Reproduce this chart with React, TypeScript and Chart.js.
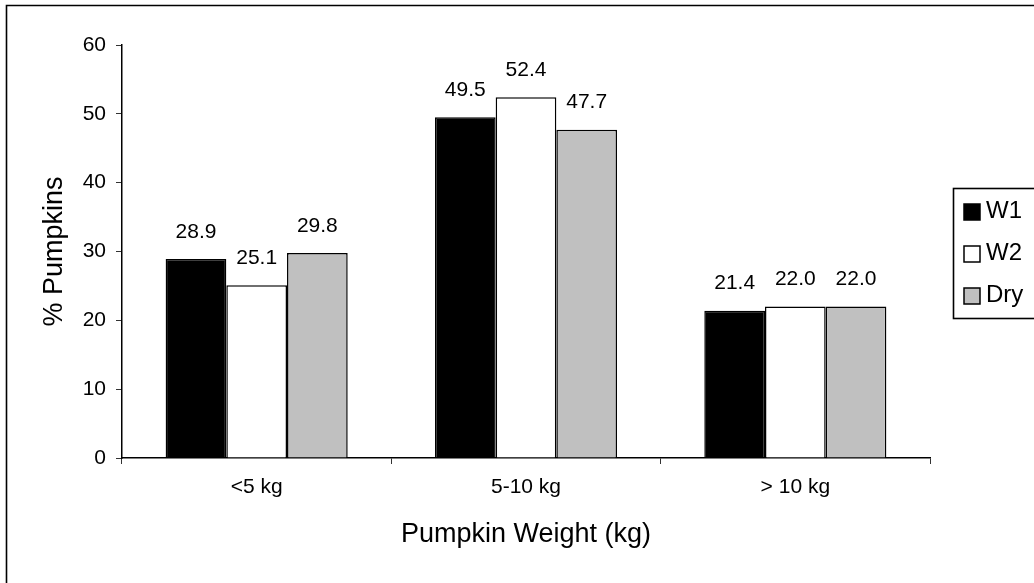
import { useEffect, useRef } from 'react';
import { Chart, registerables } from 'chart.js';

Chart.register(...registerables);

// Pumpkin weight classes and the share of pumpkins in each, per treatment
const categories = ['<5 kg', '5-10 kg', '> 10 kg'];
const seriesNames = ['W1', 'W2', 'Dry'];
const w1Values = [28.9, 49.5, 21.4];
const w2Values = [25.1, 52.4, 22.0];
const dryValues = [29.8, 47.7, 22.0];
const yTickValues = [0, 10, 20, 30, 40, 50, 60];
const xTitle = 'Pumpkin Weight (kg)';
const yTitle = '% Pumpkins';

const seriesFills = ['#000000', '#ffffff', '#c0c0c0'];
const FONT = '"Liberation Sans", Arial, Helvetica, sans-serif';

// Thin frame along the top and left edges of the chart
const framePlugin = {
  id: 'frame',
  afterDraw(chart: any) {
    const { ctx } = chart;
    ctx.save();
    ctx.strokeStyle = '#000';
    ctx.lineWidth = 1.6;
    ctx.beginPath();
    ctx.moveTo(6.5, chart.height + 2);
    ctx.lineTo(6.5, 5.5);
    ctx.lineTo(chart.width + 2, 5.5);
    ctx.stroke();
    ctx.restore();
  },
};

// Value written above every bar, one decimal place
const valueLabelPlugin = {
  id: 'valueLabels',
  afterDatasetsDraw(chart: any) {
    const { ctx } = chart;
    ctx.save();
    ctx.font = `21px ${FONT}`;
    ctx.fillStyle = '#000';
    ctx.textAlign = 'center';
    ctx.textBaseline = 'middle';
    chart.data.datasets.forEach((ds: any, i: number) => {
      const meta = chart.getDatasetMeta(i);
      meta.data.forEach((bar: any, j: number) => {
        const v = ds.data[j] as number;
        ctx.fillText(v.toFixed(1), bar.x, bar.y - 27);
      });
    });
    ctx.restore();
  },
};

// Boxed legend at the right, partly running off the edge
const boxLegendPlugin = {
  id: 'boxLegend',
  afterDraw(chart: any) {
    const { ctx } = chart;
    const left = 953.5;
    const top = 188.5;
    const bottom = 318.5;
    const rowGap = 42;
    const firstRow = 211;
    ctx.save();
    ctx.strokeStyle = '#000';
    ctx.lineWidth = 1.6;
    ctx.strokeRect(left, top, chart.width + 20 - left, bottom - top);
    ctx.font = `24px ${FONT}`;
    ctx.textAlign = 'left';
    ctx.textBaseline = 'middle';
    chart.data.datasets.forEach((ds: any, i: number) => {
      const y = firstRow + i * rowGap;
      ctx.fillStyle = ds.backgroundColor;
      ctx.fillRect(964, y - 7, 16, 16);
      ctx.lineWidth = 1.5;
      ctx.strokeStyle = '#000';
      ctx.strokeRect(964, y - 7, 16, 16);
      ctx.fillStyle = '#000';
      ctx.fillText(ds.label, 986, y);
    });
    ctx.restore();
  },
};

export default function App() {
  const canvasRef = useRef<HTMLCanvasElement | null>(null);

  useEffect(() => {
    const canvas = canvasRef.current;
    if (!canvas) return;
    const seriesValues = [w1Values, w2Values, dryValues];
    const chart = new Chart(canvas, {
      type: 'bar',
      data: {
        labels: categories,
        datasets: seriesNames.map((name, i) => ({
          label: name,
          data: seriesValues[i],
          backgroundColor: seriesFills[i],
          borderColor: '#000',
          borderWidth: 1.5,
          categoryPercentage: 0.676,
          barPercentage: 1,
        })),
      },
      options: {
        responsive: false,
        animation: false,
        devicePixelRatio: 1,
        layout: { padding: { top: 45, right: 104, left: 0, bottom: 0 } },
        plugins: {
          legend: { display: false },
          tooltip: { enabled: false },
        },
        scales: {
          x: {
            grid: {
              drawOnChartArea: false,
              drawTicks: true,
              tickLength: 6,
              color: '#333',
              lineWidth: 1,
              offset: true,
            },
            border: { color: '#000', width: 1.5 },
            ticks: {
              color: '#000',
              font: { family: FONT, size: 21 },
              padding: 11,
              maxRotation: 0,
            },
            title: {
              display: true,
              text: xTitle,
              color: '#000',
              font: { family: FONT, size: 27 },
              padding: { top: 0, bottom: 32 },
            },
            afterFit(scale: any) {
              scale.height = 125;
            },
          },
          y: {
            min: 0,
            max: 60,
            afterBuildTicks(scale: any) {
              scale.ticks = yTickValues.map((v) => ({ value: v }));
            },
            grid: {
              drawOnChartArea: false,
              drawTicks: true,
              tickLength: 6,
              color: '#333',
              lineWidth: 1,
            },
            border: { color: '#000', width: 1.5 },
            ticks: {
              color: '#000',
              font: { family: FONT, size: 21 },
              padding: 10,
            },
            title: {
              display: true,
              text: yTitle,
              color: '#000',
              font: { family: FONT, size: 27 },
              padding: { top: 38, bottom: 0 },
            },
            afterFit(scale: any) {
              scale.width = 122;
            },
          },
        },
      },
      plugins: [valueLabelPlugin, boxLegendPlugin, framePlugin],
    });
    return () => chart.destroy();
  }, []);

  return (
    <div style={{ position: 'fixed', left: 0, top: 0, width: 1034, height: 583, background: '#fff' }}>
      <canvas ref={canvasRef} width={1034} height={583} style={{ display: 'block' }} />
    </div>
  );
}
